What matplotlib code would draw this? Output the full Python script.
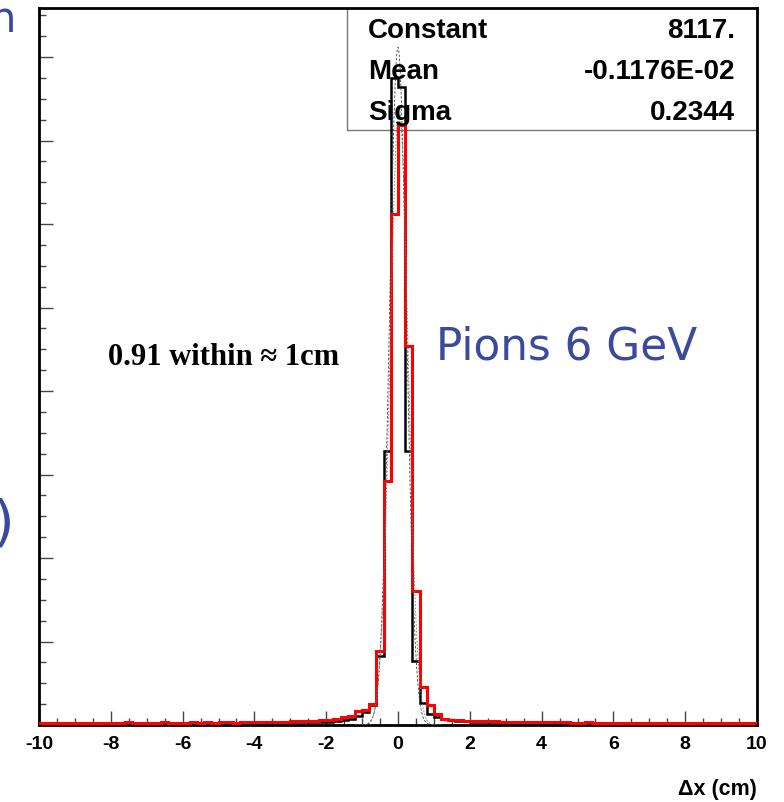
import numpy as np
import matplotlib
matplotlib.use("Agg")
import matplotlib.pyplot as plt
from matplotlib import font_manager as fm

# ---------------- data ----------------
bin_edges = np.round(np.linspace(-10, 10, 101), 3)

black_counts = [
    8, 10, 9, 12, 11, 10, 13, 12, 11, 14, 12, 13, 15, 14, 13, 16, 15, 14, 17, 16,
    18, 17, 19, 20, 18, 21, 22, 20, 23, 24, 25, 24, 27, 28, 26, 30, 32, 31, 35, 38,
    40, 45, 55, 72, 108, 156, 240, 826, 3281, 7749,
    7641, 3281, 766, 263, 132, 96, 72, 60, 50, 45,
    38, 35, 33, 30, 28, 27, 25, 24, 22, 21, 20, 19, 18, 18, 17, 16, 15, 15, 14, 14,
    13, 13, 12, 12, 12, 11, 11, 10, 10, 10, 9, 9, 9, 8, 8, 8, 8, 7, 7, 7,
]

red_counts = [
    22, 25, 20, 24, 27, 23, 21, 26, 28, 24, 22, 27, 30, 25, 23, 28, 26, 31, 24, 27,
    29, 33, 26, 30, 28, 34, 31, 29, 35, 33, 32, 36, 38, 34, 40, 42, 45, 48, 52, 58,
    62, 75, 96, 108, 168, 180, 251, 886, 2922, 6120,
    7186, 4539, 1605, 455, 240, 132, 72, 60, 55, 50,
    48, 45, 42, 44, 40, 38, 36, 39, 35, 33, 34, 31, 30, 32, 29, 28, 30, 27, 26, 28,
    25, 27, 24, 26, 23, 25, 24, 22, 23, 21, 24, 22, 20, 23, 21, 22, 20, 19, 21, 20,
]

fit_constant = 8117.0
fit_mean = -0.1176e-02
fit_sigma = 0.2344
fit2_constant = 7400.0
fit2_mean = 0.03
fit2_sigma = 0.25

stat_names = ["Constant", "Mean", "Sigma"]
stat_values = ["8117.", "-0.1176E-02", "0.2344"]

xtick_values = [-10, -8, -6, -4, -2, 0, 2, 4, 6, 8, 10]
xlabel = "\u0394x (cm)"
note_text = "0.91 within \u2248 1cm"
pion_text = "Pions 6 GeV"

# ---------------- fonts ----------------
avail = {f.name for f in fm.fontManager.ttflist}
narrow = "Liberation Sans Narrow" if "Liberation Sans Narrow" in avail else "Liberation Sans"

# ---------------- figure ----------------
W, H = 784, 803
fig = plt.figure(figsize=(W / 100, H / 100), dpi=100)
L, R, T, B = 39, 757, 9, 726
ax = fig.add_axes([L / W, 1 - B / H, (R - L) / W, (B - T) / H])
ax.set_xlim(-10, 10)
ax.set_ylim(0, (B - T) / 83.5 * 1000)

ax.stairs(black_counts, bin_edges, color="black", lw=1.8, zorder=3)
ax.stairs(red_counts, bin_edges, color="#ff0000", lw=2.2, zorder=4)

xg = np.linspace(-1.2, 1.2, 600)
ax.plot(xg, fit_constant * np.exp(-0.5 * ((xg - fit_mean) / fit_sigma) ** 2),
        color="#444444", lw=0.6, ls=(0, (3, 2)), zorder=5)
ax.plot(xg, fit2_constant * np.exp(-0.5 * ((xg - fit2_mean) / fit2_sigma) ** 2),
        color="#777777", lw=0.6, ls=(0, (2, 2)), zorder=5)

for s in ax.spines.values():
    s.set_linewidth(2.0)
    s.set_color("black")

ax.set_xticks(xtick_values)
ax.set_xticks(np.arange(-10, 10.01, 0.5), minor=True)
ax.set_yticks(np.arange(0, 8600, 1000))
ax.set_yticks(np.arange(0, 8600, 250), minor=True)
ax.tick_params(axis="both", which="both", direction="in", top=False, right=False,
               color="#444444", width=1.0)
ax.tick_params(axis="both", which="major", length=10)
ax.tick_params(axis="both", which="minor", length=5)
ax.tick_params(axis="y", labelleft=False)
ax.tick_params(axis="x", pad=7)
ax.set_xticklabels([str(v) for v in xtick_values])
for lab in ax.get_xticklabels():
    lab.set_fontfamily(narrow)
    lab.set_fontweight("bold")
    lab.set_fontsize(14)

# x label
fig.text(757 / W, 1 - 790 / H, xlabel, ha="right", va="center",
         fontsize=15.5, fontweight="bold", family="Liberation Sans")

# stats box
bx0 = 347
by1 = 131
x_box0 = (bx0 - L) / (R - L) * 20 - 10
ytop = ax.get_ylim()[1]
y_box1 = (B - by1) / (B - T) * ytop
ax.plot([x_box0, x_box0, 10], [ytop, y_box1, y_box1], color="#777777", lw=1.0,
        zorder=2, clip_on=False)
ys = [31, 72, 113]
for name, val, yp in zip(stat_names, stat_values, ys):
    fig.text(368 / W, 1 - yp / H, name, ha="left", va="center", fontsize=20,
             fontweight="bold", family="Liberation Sans", zorder=1)
    fig.text(735 / W, 1 - yp / H, val, ha="right", va="center", fontsize=20,
             fontweight="bold", family="Liberation Sans", zorder=1)

# annotations
fig.text(224 / W, 1 - 358 / H, note_text, ha="center", va="center", fontsize=22,
         fontweight="bold", family=["Liberation Serif", "DejaVu Serif"])
fig.text(567 / W, 1 - 347 / H, pion_text, ha="center", va="center", fontsize=31.5,
         color="#3b4a9c", family="DejaVu Sans")

# clipped handwriting fragments at the left edge
fig.text(16 / W, 1 - 20 / H, "n", ha="right", va="center", fontsize=30,
         color="#3b4a9c", family="DejaVu Sans")
fig.text(14 / W, 1 - 525 / H, ")", ha="right", va="center", fontsize=40,
         color="#3b4a9c", family="DejaVu Sans")

fig.savefig("out.png", dpi=100)
